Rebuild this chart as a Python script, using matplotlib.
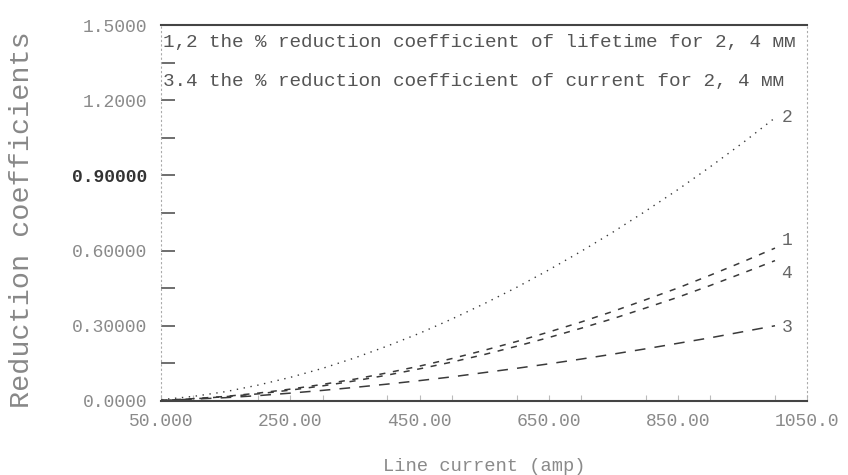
import numpy as np
import matplotlib
matplotlib.use("Agg")
import matplotlib.pyplot as plt
from matplotlib.ticker import MultipleLocator

# line current (amp)
current = [50, 100, 150, 200, 250, 300, 350, 400, 450, 500,
           550, 600, 650, 700, 750, 800, 850, 900, 950, 1000]
# 1,2: reduction coefficient of lifetime for 2 and 4 mm
lifetime_2mm = [0.002, 0.009, 0.018, 0.031, 0.047, 0.066, 0.087, 0.112, 0.139, 0.169,
                0.202, 0.237, 0.275, 0.315, 0.358, 0.404, 0.451, 0.502, 0.555, 0.610]
lifetime_4mm = [0.005, 0.018, 0.037, 0.063, 0.094, 0.130, 0.172, 0.219, 0.270, 0.327,
                0.388, 0.453, 0.523, 0.597, 0.675, 0.758, 0.844, 0.935, 1.030, 1.130]
# 3,4: reduction coefficient of current for 2 and 4 mm
current_2mm = [0.002, 0.007, 0.013, 0.021, 0.031, 0.042, 0.054, 0.067, 0.081, 0.096,
               0.113, 0.130, 0.148, 0.167, 0.187, 0.208, 0.230, 0.252, 0.276, 0.300]
current_4mm = [0.002, 0.008, 0.017, 0.028, 0.043, 0.060, 0.080, 0.103, 0.128, 0.155,
               0.185, 0.218, 0.253, 0.290, 0.329, 0.371, 0.414, 0.461, 0.510, 0.560]

yticks = [0.0, 0.3, 0.6, 0.9, 1.2, 1.5]
ytick_labels = ["0.0000", "0.30000", "0.60000", "0.90000", "1.2000", "1.5000"]
xticks = [50, 250, 450, 650, 850, 1050]
xtick_labels = ["50.000", "250.00", "450.00", "650.00", "850.00", "1050.0"]

mono = "Liberation Mono"
ink = "#3a3a3a"
faint = "#8a8a8a"

fig = plt.figure(figsize=(8.48, 4.75), dpi=100)
ax = fig.add_axes([0.190, 0.156, 0.762, 0.791])

ax.plot(current, lifetime_2mm, color=ink, lw=1.1, ls=(0, (4, 5)))
ax.plot(current, lifetime_4mm, color=ink, lw=1.0, ls=(0, (1, 4)))
ax.plot(current, current_2mm, color=ink, lw=1.1, ls=(0, (7, 6)))
ax.plot(current, current_4mm, color=ink, lw=1.1, ls=(2, (4, 5)))

ax.set_xlim(50, 1050)
ax.set_ylim(0, 1.5)

ax.set_yticks(yticks)
ax.set_yticklabels(ytick_labels, family=mono, fontsize=13, color=faint)
ax.get_yticklabels()[3].set_color("#333333")
ax.get_yticklabels()[3].set_fontweight("bold")
ax.yaxis.set_minor_locator(MultipleLocator(0.15))
ax.tick_params(axis="y", which="both", direction="in", length=10,
               width=1.2, color="#555555", pad=10)

ax.set_xticks(xticks)
ax.set_xticklabels(xtick_labels, family=mono, fontsize=13, color=faint)
ax.xaxis.set_minor_locator(MultipleLocator(100))
ax.tick_params(axis="x", which="both", direction="in", length=4,
               width=0.8, color="#bbbbbb", pad=9)

for side in ["left", "right"]:
    ax.spines[side].set_linestyle((0, (1, 3)))
    ax.spines[side].set_color("#aaaaaa")
    ax.spines[side].set_linewidth(0.8)
for side in ["top", "bottom"]:
    ax.spines[side].set_color("#444444")
    ax.spines[side].set_linewidth(1.5)

ax.text(0.003, 0.955, "1,2 the % reduction coefficient of lifetime for 2, 4 мм",
        transform=ax.transAxes, family=mono, fontsize=13.9, color="#555555",
        va="center", ha="left")
ax.text(0.003, 0.85, "3.4 the % reduction coefficient of current for 2, 4 мм",
        transform=ax.transAxes, family=mono, fontsize=13.9, color="#555555",
        va="center", ha="left")

ax.text(1010, 1.13, "2", family=mono, fontsize=13, color="#666666", va="center")
ax.text(1010, 0.64, "1", family=mono, fontsize=13, color="#666666", va="center")
ax.text(1010, 0.51, "4", family=mono, fontsize=13, color="#666666", va="center")
ax.text(1010, 0.295, "3", family=mono, fontsize=13, color="#666666", va="center")

ax.set_xlabel("Line current (amp)", family=mono, fontsize=13.5, color=faint, labelpad=20)
fig.text(0.026, 0.537, "Reduction coefficients", rotation=90, family=mono,
         fontsize=20.5, color="#888888", va="center", ha="center")

fig.savefig("out.png", dpi=100)
